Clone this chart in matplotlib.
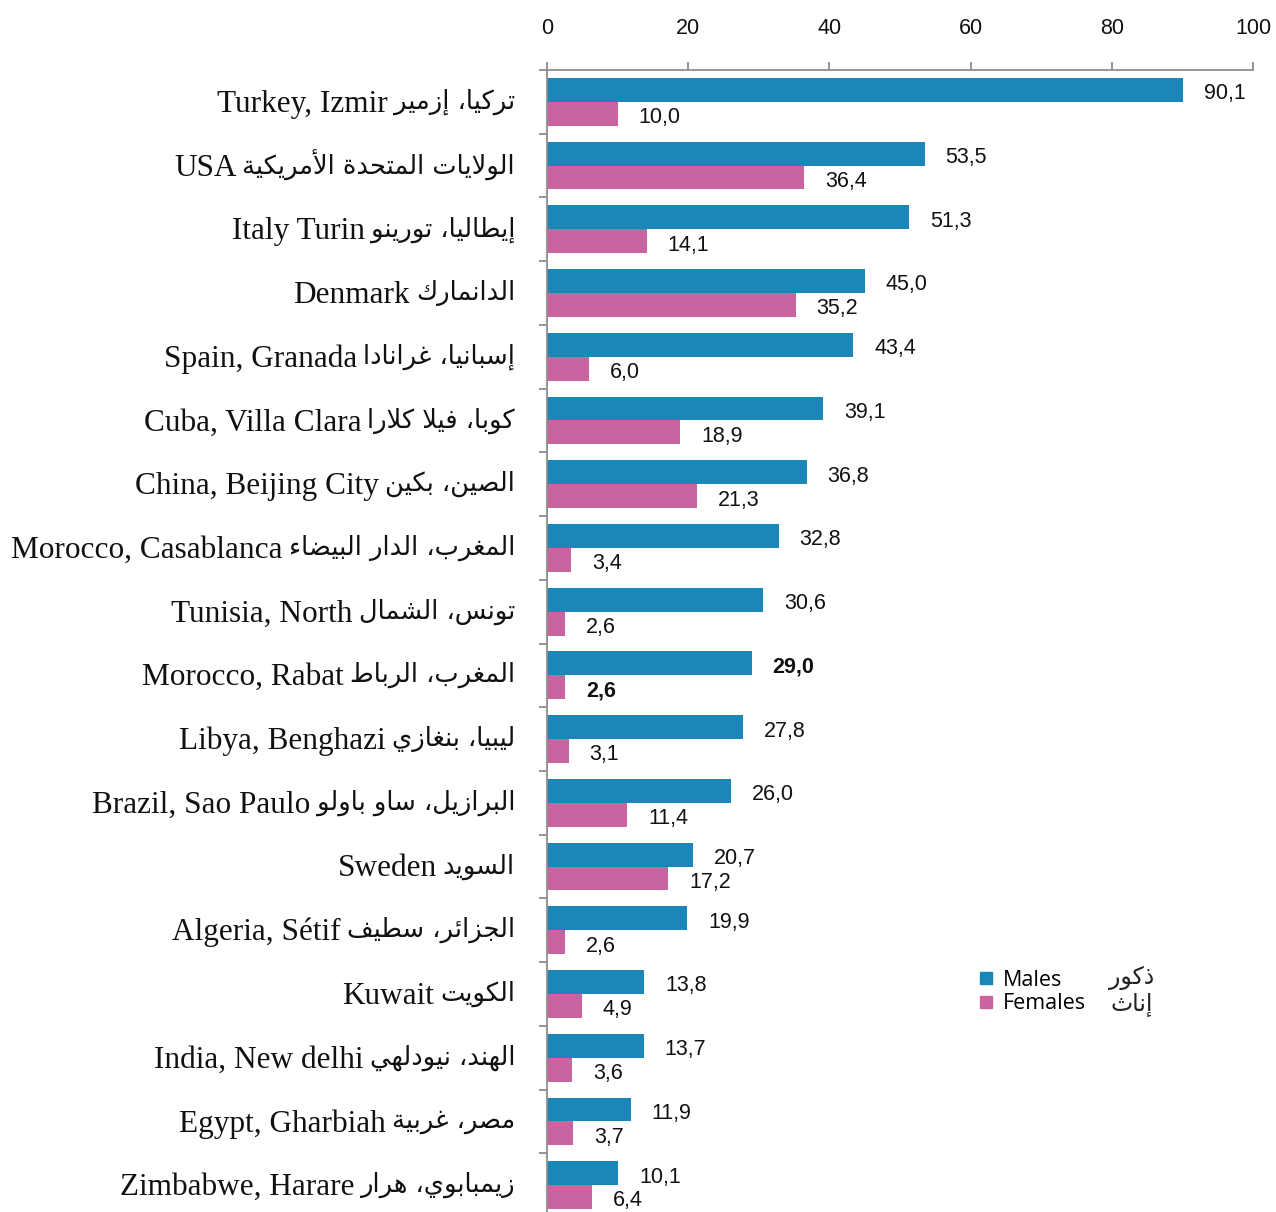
import matplotlib
matplotlib.use("Agg")
import matplotlib.pyplot as plt
from matplotlib.lines import Line2D
import numpy as np

# ---------------- data ----------------
labels_en = ["Turkey, Izmir", "USA", "Italy Turin", "Denmark", "Spain, Granada",
             "Cuba, Villa Clara", "China, Beijing City", "Morocco, Casablanca",
             "Tunisia, North", "Morocco, Rabat", "Libya, Benghazi", "Brazil, Sao Paulo",
             "Sweden", "Algeria, Sétif", "Kuwait", "India, New delhi",
             "Egypt, Gharbiah", "Zimbabwe, Harare"]
labels_ar = ["تركيا، إزمير", "الولايات المتحدة الأمريكية", "إيطاليا، تورينو", "الدانمارك",
             "إسبانيا، غرانادا", "كوبا، فيلا كلارا", "الصين، بكين", "المغرب، الدار البيضاء",
             "تونس، الشمال", "المغرب، الرباط", "ليبيا، بنغازي", "البرازيل، ساو باولو",
             "السويد", "الجزائر، سطيف", "الكويت", "الهند، نيودلهي", "مصر، غربية",
             "زيمبابوي، هرار"]
males = [90.1, 53.5, 51.3, 45.0, 43.4, 39.1, 36.8, 32.8, 30.6, 29.0, 27.8, 26.0,
         20.7, 19.9, 13.8, 13.7, 11.9, 10.1]
females = [10.0, 36.4, 14.1, 35.2, 6.0, 18.9, 21.3, 3.4, 2.6, 2.6, 3.1, 11.4,
           17.2, 2.6, 4.9, 3.6, 3.7, 6.4]
xticks = [0, 20, 40, 60, 80, 100]
bold_rows = ["Morocco, Rabat"]
legend_en = ["Males", "Females"]
legend_ar = ["ذكور", "إناث"]

# ---------------- simple Arabic shaping ----------------
_tab = [('\u0621', 0xFE80, 1), ('\u0622', 0xFE81, 2), ('\u0623', 0xFE83, 2),
        ('\u0624', 0xFE85, 2), ('\u0625', 0xFE87, 2), ('\u0626', 0xFE89, 4),
        ('\u0627', 0xFE8D, 2), ('\u0628', 0xFE8F, 4), ('\u0629', 0xFE93, 2),
        ('\u062A', 0xFE95, 4), ('\u062B', 0xFE99, 4), ('\u062C', 0xFE9D, 4),
        ('\u062D', 0xFEA1, 4), ('\u062E', 0xFEA5, 4), ('\u062F', 0xFEA9, 2),
        ('\u0630', 0xFEAB, 2), ('\u0631', 0xFEAD, 2), ('\u0632', 0xFEAF, 2),
        ('\u0633', 0xFEB1, 4), ('\u0634', 0xFEB5, 4), ('\u0635', 0xFEB9, 4),
        ('\u0636', 0xFEBD, 4), ('\u0637', 0xFEC1, 4), ('\u0638', 0xFEC5, 4),
        ('\u0639', 0xFEC9, 4), ('\u063A', 0xFECD, 4), ('\u0641', 0xFED1, 4),
        ('\u0642', 0xFED5, 4), ('\u0643', 0xFED9, 4), ('\u0644', 0xFEDD, 4),
        ('\u0645', 0xFEE1, 4), ('\u0646', 0xFEE5, 4), ('\u0647', 0xFEE9, 4),
        ('\u0648', 0xFEED, 2), ('\u0649', 0xFEEF, 2), ('\u064A', 0xFEF1, 4)]
FORMS = {c: tuple(chr(s + k) for k in range(n)) for c, s, n in _tab}
LAMALEF = {'\u0622': ('\uFEF5', '\uFEF6'), '\u0623': ('\uFEF7', '\uFEF8'),
           '\u0625': ('\uFEF9', '\uFEFA'), '\u0627': ('\uFEFB', '\uFEFC')}


def shape_ar(s):
    toks = []
    i = 0
    while i < len(s):
        c = s[i]
        if c == '\u0644' and i + 1 < len(s) and s[i + 1] in LAMALEF:
            toks.append(('LA', s[i + 1]))
            i += 2
        else:
            toks.append(c)
            i += 1

    def j_next(t):
        return isinstance(t, str) and t in FORMS and len(FORMS[t]) == 4

    def j_prev(t):
        return isinstance(t, tuple) or (t in FORMS and len(FORMS[t]) >= 2)

    out = []
    for k, t in enumerate(toks):
        prv = toks[k - 1] if k > 0 else None
        nxt = toks[k + 1] if k + 1 < len(toks) else None
        p = prv is not None and j_next(prv)
        if isinstance(t, tuple):
            out.append(LAMALEF[t[1]][1 if p else 0])
            continue
        if t not in FORMS:
            out.append(t)
            continue
        f = FORMS[t]
        n = nxt is not None and j_prev(nxt) and j_next(t)
        if len(f) == 4:
            idx = 3 if (p and n) else (1 if p else (2 if n else 0))
        elif len(f) == 2:
            idx = 1 if p else 0
        else:
            idx = 0
        out.append(f[idx])
    return ''.join(out)[::-1]


# ---------------- figure ----------------
W, H = 1276, 1212
fig = plt.figure(figsize=(W / 100, H / 100), dpi=100)
x0, x1 = 547, 1253
ytop, ybot = 70, 1217
ax = fig.add_axes([x0 / W, 1 - ybot / H, (x1 - x0) / W, (ybot - ytop) / H])

blue = "#1B86B8"
pink = "#C964A0"
grey = "#8E8E8E"

n = len(labels_en)
y = np.arange(n)
bh = 0.375
ax.barh(y - bh / 2, males, height=bh, color=blue, label=legend_en[0])
ax.barh(y + bh / 2, females, height=bh, color=pink, label=legend_en[1])

ax.set_xlim(0, 100)
ax.set_ylim(n - 0.5, -0.5)


def fmt(v):
    return f"{v:.1f}".replace('.', ',')


for i in range(n):
    w = 'bold' if labels_en[i] in bold_rows else 'normal'
    ax.annotate(fmt(males[i]), (males[i], y[i] - bh / 2), xytext=(15, -1),
                textcoords='offset points', va='center_baseline', ha='left',
                fontsize=15.5, fontfamily='Liberation Sans', fontweight=w, color='#111111')
    ax.annotate(fmt(females[i]), (females[i], y[i] + bh / 2), xytext=(15, -1),
                textcoords='offset points', va='center_baseline', ha='left',
                fontsize=15.5, fontfamily='Liberation Sans', fontweight=w, color='#111111')

# axes styling
for s in ['right', 'bottom']:
    ax.spines[s].set_visible(False)
for s in ['top', 'left']:
    ax.spines[s].set_color(grey)
    ax.spines[s].set_linewidth(1.3)

ax.xaxis.set_ticks_position('top')
ax.set_xticks(xticks)
ax.set_xticklabels([str(t) for t in xticks], fontfamily='Liberation Sans', fontsize=15.5)
ax.tick_params(axis='x', direction='out', length=6, width=1.3, color=grey, pad=16,
               labelcolor='#111111')

ax.set_yticks(y)
ax.set_yticklabels([''] * n)
ax.tick_params(axis='y', which='major', length=0)
ax.set_yticks(np.arange(n + 1) - 0.5, minor=True)
ax.tick_params(axis='y', which='minor', direction='out', length=6, width=1.3, color=grey)

# category labels: Arabic part right-aligned, English part to its left
label_right = 515 / W
ar_texts = []
for i in range(n):
    yc = 1 - (ytop + (i + 0.5) * (ybot - ytop) / n) / H
    t = fig.text(label_right, yc, shape_ar(labels_ar[i]), ha='right', va='center',
                 fontsize=18.5, fontfamily=['DejaVu Sans'], color='#111111')
    ar_texts.append((t, yc))

fig.canvas.draw()
renderer = fig.canvas.get_renderer()
for i, (t, yc) in enumerate(ar_texts):
    bb = t.get_window_extent(renderer)
    xe = (bb.x0 - 6) / W
    fig.text(xe, yc - 0.002, labels_en[i], ha='right', va='center', fontsize=22.5,
             fontfamily=['Liberation Serif'], color='#111111')

# legend
handles = [Line2D([], [], marker='s', linestyle='none', markersize=8.5, color=blue),
           Line2D([], [], marker='s', linestyle='none', markersize=8.5, color=pink)]
leg = fig.legend(handles, legend_en, loc='center left',
                 bbox_to_anchor=(976 / W, 1 - 992 / H), bbox_transform=fig.transFigure,
                 frameon=False, prop={'family': 'Open Sans', 'size': 15.5},
                 handletextpad=0.35, labelspacing=0.12, handlelength=0.9, borderaxespad=0,
                 borderpad=0)
for j, tx in enumerate(legend_ar):
    fig.text(1132 / W, 1 - (978 + 26 * j) / H, shape_ar(tx), ha='center', va='center',
             fontsize=17, fontfamily=['DejaVu Sans'], color='#222222')

fig.savefig("out.png", dpi=100)
